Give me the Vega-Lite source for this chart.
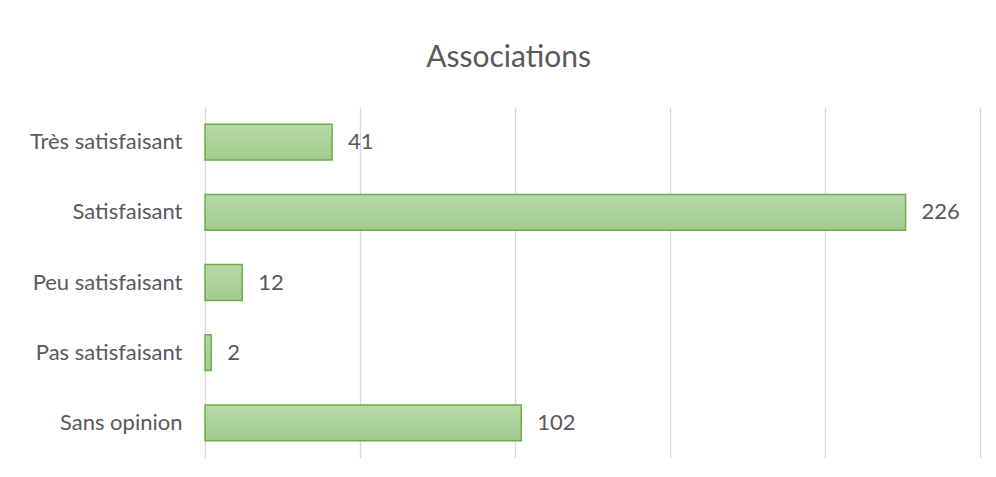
{
  "$schema": "https://vega.github.io/schema/vega-lite/v6.json",
  "width": 775,
  "height": 351,
  "autosize": {"type": "none"},
  "padding": {"left": 205, "top": 107, "right": 16, "bottom": 19},
  "background": "white",
  "config": {"view": {"stroke": null}, "font": "Lato"},
  "title": {
    "text": "Associations",
    "fontSize": 30,
    "font": "Lato",
    "fontWeight": "normal",
    "color": "#595959",
    "anchor": "middle",
    "dx": -84,
    "offset": 34
  },
  "data": {
    "values": [
      {"categorie": "Très satisfaisant", "n": 41},
      {"categorie": "Satisfaisant", "n": 226},
      {"categorie": "Peu satisfaisant", "n": 12},
      {"categorie": "Pas satisfaisant", "n": 2},
      {"categorie": "Sans opinion", "n": 102}
    ]
  },
  "encoding": {
    "y": {
      "field": "categorie",
      "type": "nominal",
      "sort": null,
      "scale": {"paddingInner": 0.49, "paddingOuter": 0.245},
      "axis": {
        "title": null,
        "ticks": false,
        "domain": false,
        "labelPadding": 23,
        "labelFontSize": 22,
        "labelColor": "#595959",
        "labelFont": "Lato",
        "labelLimit": 300
      }
    },
    "x": {
      "field": "n",
      "type": "quantitative",
      "scale": {"domain": [0, 250], "nice": false},
      "axis": {
        "title": null,
        "values": [0, 50, 100, 150, 200, 250],
        "labels": false,
        "ticks": false,
        "domain": false,
        "grid": true,
        "gridColor": "#d9d9d9",
        "gridWidth": 1.3
      }
    }
  },
  "layer": [
    {
      "mark": {
        "type": "bar",
        "stroke": "#70ad47",
        "strokeWidth": 1.5,
        "color": {
          "gradient": "linear",
          "x1": 0, "y1": 0, "x2": 0, "y2": 1,
          "stops": [
            {"offset": 0, "color": "#b8d9aa"},
            {"offset": 1, "color": "#a2ca8e"}
          ]
        }
      }
    },
    {
      "mark": {
        "type": "text",
        "align": "left",
        "baseline": "middle",
        "dx": 16,
        "fontSize": 22,
        "color": "#595959",
        "font": "Lato"
      },
      "encoding": {"text": {"field": "n", "type": "quantitative"}}
    }
  ]
}
